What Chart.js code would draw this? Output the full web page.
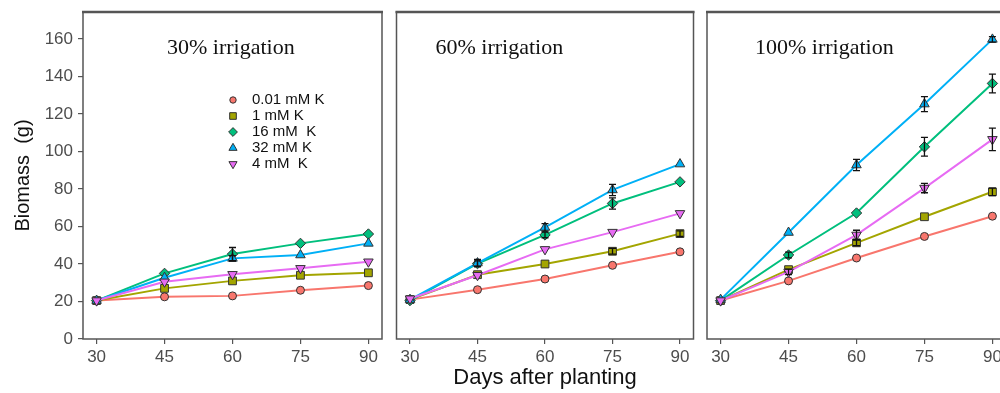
<!DOCTYPE html>
<html><head><meta charset="utf-8">
<script src="https://cdn.jsdelivr.net/npm/chart.js@4.4.1/dist/chart.umd.min.js"></script>
<style>
html,body{margin:0;padding:0;background:#fff;overflow:hidden}
#wrap{position:relative;width:1000px;height:393px;overflow:hidden;background:#fff}
canvas{position:absolute;top:0}
</style></head><body>
<div id="wrap">
<canvas id="c1" width="390" height="393" style="left:0px"></canvas>
<canvas id="c2" width="310" height="393" style="left:390px"></canvas>
<canvas id="c3" width="320" height="393" style="left:700px"></canvas>
</div>
<script>
// ---------- data ----------
const days = [30, 45, 60, 75, 90];
const xTickValues = [30, 45, 60, 75, 90];
const yTickValues = [0, 20, 40, 60, 80, 100, 120, 140, 160];
const seriesNames = ['0.01 mM K', '1 mM K', '16 mM  K', '32 mM K', '4 mM  K'];
const panelTitles = ['30% irrigation', '60% irrigation', '100% irrigation'];
const yAxisTitle = 'Biomass  (g)';
const xAxisTitle = 'Days after planting';

// 30% irrigation
const irr30_K001 = [20.5, 22.5, 23.0, 26.0, 28.5];
const irr30_K1   = [20.5, 27.0, 31.0, 34.0, 35.3];
const irr30_K16  = [20.5, 35.0, 45.3, 51.0, 56.0];
const irr30_K32  = [20.5, 32.7, 43.0, 44.8, 51.0];
const irr30_K4   = [20.5, 30.5, 34.5, 37.7, 41.2];
const irr30_err_K001 = [0.5, 0.8, 0.8, 0.8, 0.8];
const irr30_err_K1   = [0.5, 0.8, 1.0, 1.0, 1.0];
const irr30_err_K16  = [0.5, 1.2, 3.5, 1.0, 1.0];
const irr30_err_K32  = [0.5, 1.0, 1.5, 1.2, 1.2];
const irr30_err_K4   = [0.5, 1.0, 1.0, 1.0, 1.0];

// 60% irrigation
const irr60_K001 = [21.0, 26.3, 32.0, 39.3, 46.5];
const irr60_K1   = [21.0, 34.3, 40.0, 46.8, 56.2];
const irr60_K16  = [20.5, 40.2, 55.5, 72.3, 83.8];
const irr60_K32  = [21.0, 40.5, 59.5, 79.5, 93.3];
const irr60_K4   = [21.5, 34.0, 47.8, 57.0, 67.0];
const irr60_err_K001 = [0.5, 0.8, 0.8, 0.8, 0.8];
const irr60_err_K1   = [0.5, 0.8, 1.2, 1.5, 1.5];
const irr60_err_K16  = [0.5, 1.5, 1.5, 3.0, 1.0];
const irr60_err_K32  = [0.5, 2.0, 2.0, 3.0, 1.0];
const irr60_err_K4   = [0.5, 1.0, 1.0, 1.0, 1.0];

// 100% irrigation
const irr100_K001 = [20.5, 31.0, 43.2, 54.7, 65.5];
const irr100_K1   = [20.5, 37.0, 51.3, 65.2, 78.5];
const irr100_K16  = [20.5, 44.8, 67.2, 102.5, 136.3];
const irr100_K32  = [21.0, 56.8, 92.8, 125.3, 159.8];
const irr100_K4   = [20.5, 35.8, 55.5, 80.5, 106.5];
const irr100_err_K001 = [0.5, 1.0, 0.8, 0.8, 0.8];
const irr100_err_K1   = [0.5, 1.0, 1.5, 1.0, 2.0];
const irr100_err_K16  = [0.5, 1.5, 1.2, 5.0, 5.0];
const irr100_err_K32  = [0.5, 1.0, 3.0, 4.0, 1.5];
const irr100_err_K4   = [0.5, 1.5, 2.5, 2.5, 6.0];

// ---------- styles ----------
const seriesColors = ['#F8766D', '#A3A500', '#00BF7D', '#00B0F6', '#E76BF3'];
const seriesShapes = ['circle', 'rect', 'rectRot', 'triangle', 'triangle'];
const seriesRot = [0, 0, 0, 0, 180];
const seriesRadius = [4, 5.5, 5.2, 5.5, 5.5];
const sans = "'Liberation Sans', Arial, sans-serif";
const serif = "'Liberation Serif', 'Times New Roman', serif";

const panelPlugin = {
  id: 'panelDecor',
  beforeDatasetsDraw(chart) {
    const a = chart.chartArea, ctx = chart.ctx;
    ctx.save();
    ctx.strokeStyle = '#555';
    ctx.lineWidth = 1.5;
    ctx.strokeRect(a.left, a.top, a.right - a.left, a.bottom - a.top);
    ctx.lineWidth = 2.5;
    ctx.beginPath(); ctx.moveTo(a.left - 1, a.top); ctx.lineTo(a.right + 1, a.top); ctx.stroke();
    ctx.restore();
  },
  afterDatasetsDraw(chart) {
    const ctx = chart.ctx, ys = chart.scales.y, xs = chart.scales.x;
    ctx.save();
    ctx.strokeStyle = '#111';
    ctx.lineWidth = 1.3;
    chart.data.datasets.forEach(ds => {
      (ds.err || []).forEach((e, i) => {
        const x = xs.getPixelForValue(ds.data[i].x);
        const y1 = ys.getPixelForValue(ds.data[i].y - e);
        const y2 = ys.getPixelForValue(ds.data[i].y + e);
        if (Math.abs(y1 - y2) < 5) return;
        ctx.beginPath();
        ctx.moveTo(x, y1); ctx.lineTo(x, y2);
        ctx.moveTo(x - 3.5, y1); ctx.lineTo(x + 3.5, y1);
        ctx.moveTo(x - 3.5, y2); ctx.lineTo(x + 3.5, y2);
        ctx.stroke();
      });
    });
    ctx.restore();
  },
  afterDraw(chart) {
    const o = chart.options.plugins.panelDecor, a = chart.chartArea, ctx = chart.ctx;
    ctx.save();
    ctx.fillStyle = '#111';
    ctx.font = '22px ' + serif;
    ctx.textBaseline = 'middle';
    ctx.textAlign = 'left';
    ctx.fillText(o.title, a.left + o.titleDx, a.top + 36);
    if (o.legend) {
      ctx.font = '15px ' + sans;
      chart.data.datasets.forEach((ds, i) => {
        const y = a.top + 88 + i * 16;
        const x = a.left + 150;
        ctx.fillStyle = seriesColors[i];
        ctx.strokeStyle = '#333';
        ctx.lineWidth = 1;
        const opts = {pointStyle: seriesShapes[i], radius: seriesRadius[i] - 0.8, rotation: seriesRot[i], borderWidth: 1};
        Chart.helpers.drawPoint(ctx, opts, x, y);
        ctx.fillStyle = '#111';
        ctx.fillText(ds.label, x + 19, y);
      });
    }
    ctx.restore();
  }
};

function makePanel(id, title, titleDx, values, errs, cfg) {
  const datasets = values.map((vals, i) => ({
    label: seriesNames[i],
    data: days.map((d, j) => ({x: d, y: vals[j]})),
    err: errs[i],
    borderColor: seriesColors[i],
    backgroundColor: seriesColors[i],
    borderWidth: 2,
    pointStyle: seriesShapes[i],
    pointRotation: seriesRot[i],
    pointRadius: seriesRadius[i],
    pointBorderColor: '#333',
    pointBorderWidth: 1,
    pointBackgroundColor: seriesColors[i],
    order: 4 - i,
    tension: 0,
    clip: 8
  }));
  return new Chart(document.getElementById(id), {
    type: 'line',
    data: {datasets},
    plugins: [panelPlugin],
    options: {
      responsive: false,
      animation: false,
      events: [],
      layout: {padding: cfg.padding},
      plugins: {
        legend: {display: false},
        tooltip: {enabled: false},
        panelDecor: {title, titleDx, legend: cfg.legend}
      },
      scales: {
        x: {
          type: 'linear', min: 27, max: 93,
          afterBuildTicks: s => { s.ticks = xTickValues.map(v => ({value: v})); },
          afterFit: s => { s.height = 54; s.paddingLeft = 0; s.paddingRight = 0; },
          ticks: {font: {size: 17, family: sans}, color: '#4d4d4d', padding: 3, callback: v => String(v)},
          grid: {display: true, drawOnChartArea: false, drawTicks: true, tickLength: 5, color: '#555', lineWidth: 1.2},
          border: {display: false},
          title: {display: cfg.xTitle, text: xAxisTitle, color: '#111', font: {size: 22, family: sans}, padding: {top: 0, bottom: 2}}
        },
        y: {
          type: 'linear', min: 0, max: 174.4,
          display: cfg.yAxis,
          afterBuildTicks: s => { s.ticks = yTickValues.map(v => ({value: v})); },
          afterFit: s => { s.width = cfg.yAxis ? 83 : 0; s.paddingTop = 0; s.paddingBottom = 0; },
          ticks: {font: {size: 17, family: sans}, color: '#4d4d4d', padding: 5, callback: v => String(v)},
          grid: {display: true, drawOnChartArea: false, drawTicks: true, tickLength: 5, color: '#555', lineWidth: 1.2},
          border: {display: false},
          title: {display: true, text: yAxisTitle, color: '#111', font: {size: 20, family: sans}, padding: {top: 11, bottom: 0}}
        }
      }
    }
  });
}

makePanel('c1', panelTitles[0], 84,
  [irr30_K001, irr30_K1, irr30_K16, irr30_K32, irr30_K4],
  [irr30_err_K001, irr30_err_K1, irr30_err_K16, irr30_err_K32, irr30_err_K4],
  {padding: {left: 0, right: 8, top: 12, bottom: 0}, yAxis: true, xTitle: false, legend: true});
makePanel('c2', panelTitles[1], 39,
  [irr60_K001, irr60_K1, irr60_K16, irr60_K32, irr60_K4],
  [irr60_err_K001, irr60_err_K1, irr60_err_K16, irr60_err_K32, irr60_err_K4],
  {padding: {left: 5, right: 6, top: 12, bottom: 0}, yAxis: false, xTitle: true, legend: false});
makePanel('c3', panelTitles[2], 48,
  [irr100_K001, irr100_K1, irr100_K16, irr100_K32, irr100_K4],
  [irr100_err_K001, irr100_err_K1, irr100_err_K16, irr100_err_K32, irr100_err_K4],
  {padding: {left: 7, right: 14, top: 12, bottom: 0}, yAxis: false, xTitle: false, legend: false});
</script>
</body></html>
